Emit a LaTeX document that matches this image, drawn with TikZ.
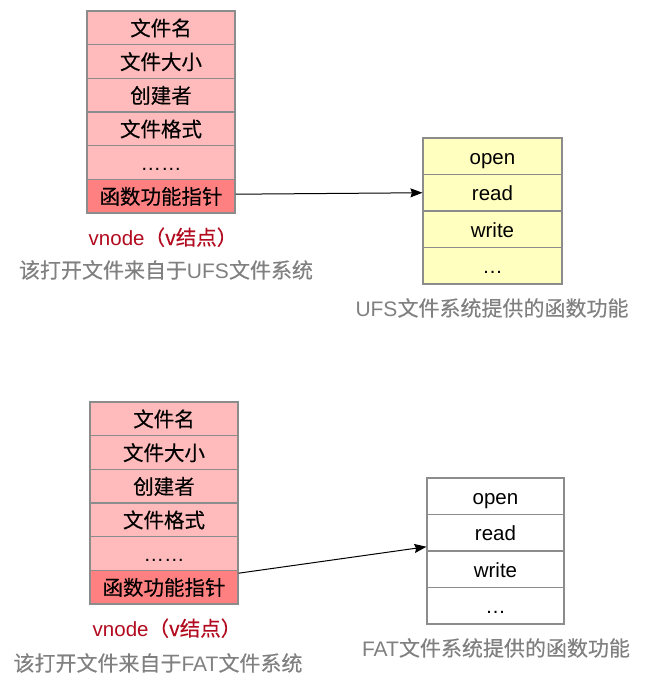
\documentclass[tikz,border=0pt]{standalone}
\usepackage{fontspec}
\setmainfont{Liberation Sans}
\newfontfamily\cjk[FakeBold=0.3]{Noto Sans CJK SC}
\usetikzlibrary{arrows.meta,calc}
\definecolor{pinkfill}{HTML}{FFBBBB}
\definecolor{ptrfill}{HTML}{FF8080}
\definecolor{yelfill}{HTML}{FFFFC0}
\definecolor{boxline}{HTML}{8C8C8C}
\definecolor{redtext}{HTML}{B20A1E}
\definecolor{graytext}{HTML}{808080}
\tikzset{
  cell/.style={draw=boxline, line width=1.1pt, inner sep=0pt, anchor=center,
    text height=16pt, text depth=0pt,
    font=\fontsize{20.5}{24}\selectfont},
  vrow/.style={cell, fill=pinkfill, minimum width=148pt, minimum height=33.67pt},
  vptr/.style={vrow, fill=ptrfill},
  frowy/.style={cell, fill=yelfill, minimum width=139pt, minimum height=36.5pt},
  froww/.style={cell, fill=white, minimum width=137pt, minimum height=36.5pt},
  redlabel/.style={text=redtext, inner sep=0pt, text height=16pt, text depth=0pt,
    font=\fontsize{20.5}{24}\selectfont},
  graylabel/.style={text=graytext, inner sep=0pt, text height=16pt, text depth=0pt,
    font=\fontsize{21}{24}\selectfont},
  link/.style={line width=1pt, -{Stealth[length=12pt,width=9pt,inset=1.5pt]}}
}
\begin{document}
\begin{tikzpicture}[x=1pt,y=-1pt]
\useasboundingbox (0,0) rectangle (647,683);
% top vnode
\node[vrow] (a1) at (161,27.8) {\cjk 文件名};
\node[vrow] (a2) at (161,61.5) {\cjk 文件大小};
\node[vrow] (a3) at (161,95.2) {\cjk 创建者};
\node[vrow] (a4) at (161,128.8) {\cjk 文件格式};
\node[vrow] (a5) at (161,162.5) {……};
\node[vptr] (a6) at (161,196.2) {\cjk 函数功能指针};
\node[redlabel] (al1) at (163,237) {vnode{\cjk （v结点）}};
\node[graylabel] (al2) at (166,270) {{\cjk 该打开文件来自于}UFS{\cjk 文件系统}};
% top functions
\node[frowy] (b1) at (492.5,156.25) {open};
\node[frowy] (b2) at (492.5,192.75) {read};
\node[frowy] (b3) at (492.5,229.25) {write};
\node[frowy] (b4) at (492.5,265.75) {…};
\node[graylabel] (bl) at (492,308) {UFS{\cjk 文件系统提供的函数功能}};
\draw[link] ($(a6.east)+(0,-2)$) -- (b2.west);
% bottom vnode
\node[vrow] (c1) at (164,418.8) {\cjk 文件名};
\node[vrow] (c2) at (164,452.5) {\cjk 文件大小};
\node[vrow] (c3) at (164,486.2) {\cjk 创建者};
\node[vrow] (c4) at (164,519.8) {\cjk 文件格式};
\node[vrow] (c5) at (164,553.5) {……};
\node[vptr] (c6) at (164,587.2) {\cjk 函数功能指针};
\node[redlabel] (cl1) at (167,628) {vnode{\cjk （v结点）}};
\node[graylabel] (cl2) at (158,663) {{\cjk 该打开文件来自于}FAT{\cjk 文件系统}};
% bottom functions
\node[froww] (d1) at (495.5,496.25) {open};
\node[froww] (d2) at (495.5,532.75) {read};
\node[froww] (d3) at (495.5,569.25) {write};
\node[froww] (d4) at (495.5,605.75) {…};
\node[graylabel] (dl) at (496,648) {FAT{\cjk 文件系统提供的函数功能}};
\draw[link] ($(c6.east)+(0,-14)$) -- ($(d2.west)+(0,14)$);
\end{tikzpicture}
\end{document}
